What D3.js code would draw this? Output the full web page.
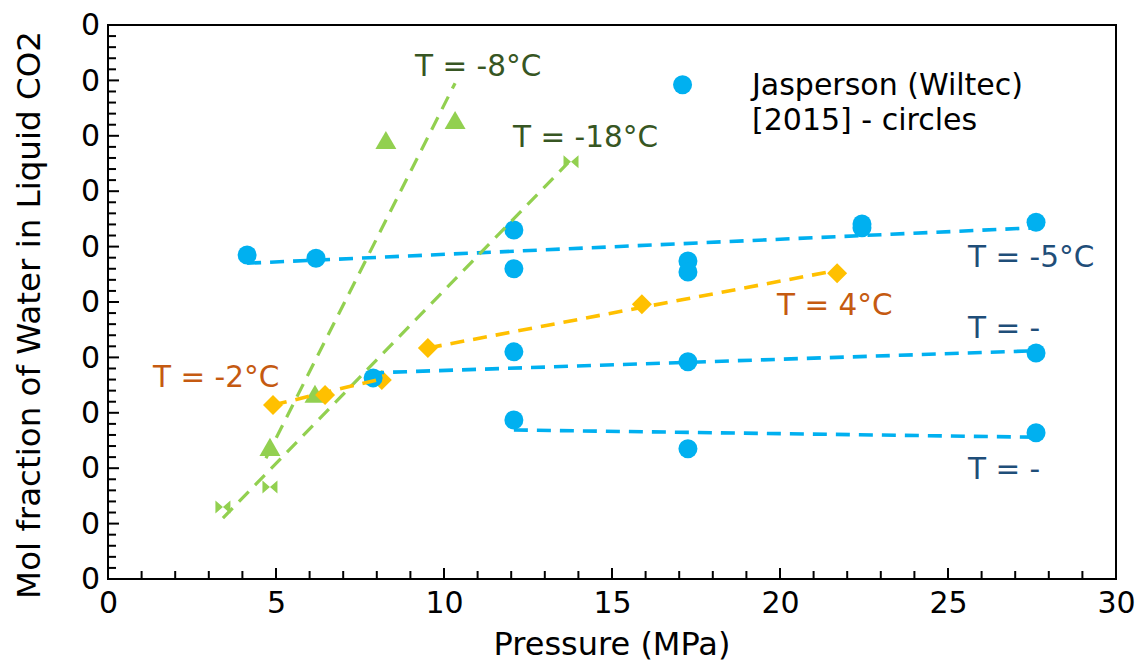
<!DOCTYPE html>
<html>
<head>
<meta charset="utf-8">
<script src="https://cdn.jsdelivr.net/npm/d3@7"></script>
<style>
  body { margin: 0; background: #fff; }
  svg text { font-family: "DejaVu Sans", sans-serif; }
</style>
</head>
<body>
<svg id="chart" width="1144" height="665"></svg>
<script>
// Axis settings
var xTicks = [0, 5, 10, 15, 20, 25, 30]
var yTickLabels = ['0', '0', '0', '0', '0', '0', '0', '0', '0', '0', '0']

// Jasperson (Wiltec) [2015] - circles
var circP = [4.14, 6.19, 12.08, 12.08, 17.26, 17.26, 22.44, 22.44, 27.62, 7.89, 12.08, 17.26, 27.62, 12.08, 17.26, 27.62]
var circX = [5.85, 5.79, 6.30, 5.60, 5.74, 5.54, 6.41, 6.34, 6.44, 3.63, 4.10, 3.92, 4.08, 2.87, 2.35, 2.64]

// T = -8°C triangles
var triP = [4.82, 6.16, 8.27, 10.33]
var triX = [2.33, 3.29, 7.87, 8.23]

// T = -18°C bowties
var bowP = [3.42, 4.82, 13.78]
var bowX = [1.30, 1.66, 7.53]

// T = -2°C and T = 4°C diamonds
var diaP = [4.91, 6.46, 8.15, 9.52, 15.89, 21.7]
var diaX = [3.14, 3.32, 3.59, 4.17, 4.96, 5.52]

// trend lines (start / end)
var lineM5P = [4.14, 27.6], lineM5X = [5.70, 6.34]
var lineMidP = [7.8, 27.6], lineMidX = [3.72, 4.12]
var lineLowP = [12.08, 27.6], lineLowX = [2.69, 2.56]
var lineM8P = [4.70, 10.33], lineM8X = [2.18, 8.95]
var lineM18P = [3.42, 13.69], lineM18X = [1.10, 7.51]
var lineM2P = [4.91, 7.98], lineM2X = [3.14, 3.59]
var line4P = [9.52, 21.43], line4X = [4.17, 5.54]

var blue = '#00b0f0', green = '#92d050', yellow = '#ffc000'

var svg = d3.select('#chart')
var margin = { left: 108, top: 25, right: 28, bottom: 86 }
var width = 1144 - margin.left - margin.right
var height = 665 - margin.top - margin.bottom

var x = d3.scaleLinear().domain([0, 30]).range([0, width])
var y = d3.scaleLinear().domain([0, 10]).range([height, 0])

var g = svg.append('g').attr('transform', `translate(${margin.left},${margin.top})`)

// minor ticks (inward)
g.append('g').selectAll('line')
  .data(d3.range(0, 31, 1))
  .enter().append('line')
  .attr('x1', d => x(d)).attr('x2', d => x(d))
  .attr('y1', height).attr('y2', d => height - (d % 5 === 0 ? 11 : 8))
  .attr('stroke', '#000').attr('stroke-width', 2)
g.append('g').selectAll('line')
  .data(d3.range(0, 10.01, 0.2))
  .enter().append('line')
  .attr('y1', d => y(d)).attr('y2', d => y(d))
  .attr('x1', 0).attr('x2', (d, i) => (i % 5 === 0 ? 11 : 8))
  .attr('stroke', '#000').attr('stroke-width', 2)

// frame
g.append('rect')
  .attr('width', width).attr('height', height)
  .attr('fill', 'none').attr('stroke', '#000').attr('stroke-width', 2)

// x axis labels
var xAxis = d3.axisBottom(x).tickValues(xTicks).tickSize(0).tickPadding(13)
g.append('g').attr('transform', `translate(0,${height})`).call(xAxis)
  .call(s => s.select('.domain').remove())
  .selectAll('text').attr('font-size', 30).attr('fill', '#000')
  .attr('font-family', '"DejaVu Sans", sans-serif')

var yAxis = d3.axisLeft(y).ticks(10).tickSize(0).tickPadding(8)
  .tickFormat((d, i) => yTickLabels[i])
g.append('g').call(yAxis)
  .call(s => s.select('.domain').remove())
  .selectAll('text').attr('font-size', 30).attr('fill', '#000')
  .attr('font-family', '"DejaVu Sans", sans-serif')

// axis titles
svg.append('text')
  .attr('x', margin.left + width / 2).attr('y', 655)
  .attr('text-anchor', 'middle').attr('font-size', 32)
  .text('Pressure (MPa)')
svg.append('text')
  .attr('transform', 'translate(40,' + 315 + ') rotate(-90)')
  .attr('text-anchor', 'middle').attr('font-size', 32.5)
  .text('Mol fraction of Water in Liquid CO2')

// markers
var tri = d3.symbol().type(d3.symbolTriangle).size(190)
g.append('g').selectAll('path')
  .data(triP.map((p, i) => [p, triX[i]]))
  .enter().append('path')
  .attr('d', tri)
  .attr('transform', d => `translate(${x(d[0])},${y(d[1])})`)
  .attr('fill', green)

g.append('g').selectAll('path')
  .data(bowP.map((p, i) => [p, bowX[i]]))
  .enter().append('path')
  .attr('d', 'M-7.5,-6.5L0,0L-7.5,6.5Z M7.5,-6.5L0,0L7.5,6.5Z')
  .attr('transform', d => `translate(${x(d[0])},${y(d[1])})`)
  .attr('fill', green)

g.append('g').selectAll('path')
  .data(diaP.map((p, i) => [p, diaX[i]]))
  .enter().append('path')
  .attr('d', 'M0,-10L10,0L0,10L-10,0Z')
  .attr('transform', d => `translate(${x(d[0])},${y(d[1])})`)
  .attr('fill', yellow)

g.append('g').selectAll('circle')
  .data(circP.map((p, i) => [p, circX[i]]))
  .enter().append('circle')
  .attr('cx', d => x(d[0])).attr('cy', d => y(d[1]))
  .attr('r', 9.5).attr('fill', blue)

// trend lines
var line = d3.line().x(d => x(d[0])).y(d => y(d[1]))
var trends = [
  [lineM5P, lineM5X, blue, 3.6],
  [lineMidP, lineMidX, blue, 3.6],
  [lineLowP, lineLowX, blue, 3.6],
  [lineM8P, lineM8X, green, 3.2],
  [lineM18P, lineM18X, green, 3.2],
  [lineM2P, lineM2X, yellow, 3.6],
  [line4P, line4X, yellow, 3.6]
]
trends.forEach(t => {
  g.append('path')
    .datum(t[0].map((p, i) => [p, t[1][i]]))
    .attr('d', line)
    .attr('fill', 'none')
    .attr('stroke', t[2])
    .attr('stroke-width', t[3])
    .attr('stroke-dasharray', '14,9')
})

// legend
g.append('circle')
  .attr('cx', x(17.1)).attr('cy', y(8.92))
  .attr('r', 9.5).attr('fill', blue)
svg.append('text').attr('x', 752).attr('y', 95).attr('font-size', 30).text('Jasperson (Wiltec)')
svg.append('text').attr('x', 752).attr('y', 130).attr('font-size', 30).text('[2015] - circles')

// labels
var labels = [
  ['T = -8°C', 415, 76, '#375623'],
  ['T = -18°C', 513, 147, '#375623'],
  ['T = -2°C', 153, 387, '#c55a11'],
  ['T = 4°C', 777, 315, '#c55a11'],
  ['T = -5°C', 968, 267, '#1f4e79'],
  ['T = -', 968, 338, '#1f4e79'],
  ['T = -', 968, 479, '#1f4e79']
]
labels.forEach(l => {
  svg.append('text').attr('x', l[1]).attr('y', l[2])
    .attr('font-size', 29.5).attr('fill', l[3]).text(l[0])
})
</script>
</body>
</html>
